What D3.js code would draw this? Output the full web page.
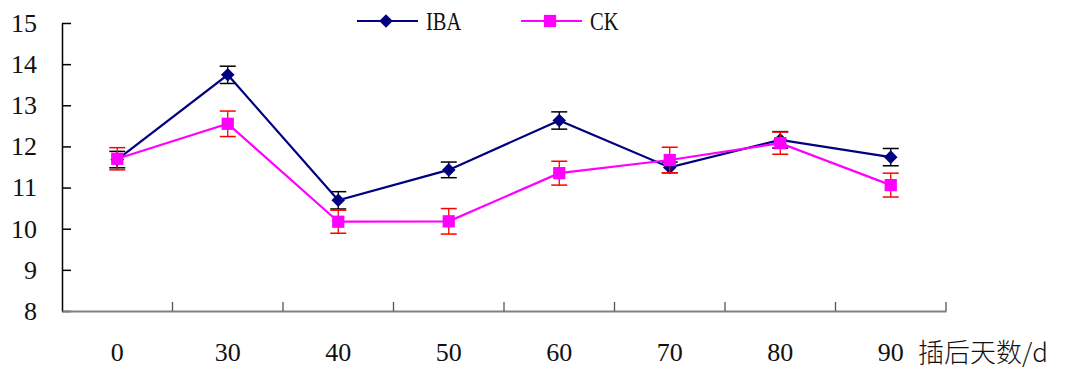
<!DOCTYPE html>
<html>
<head>
<meta charset="utf-8">
<script src="https://cdn.jsdelivr.net/npm/d3@7"></script>
<style>
  body { margin: 0; background: #fff; }
</style>
</head>
<body>
<div id="chart"></div>
<script>
// data
var days = ["0", "30", "40", "50", "60", "70", "80", "90"];
var iba = [11.68, 13.74, 10.69, 11.43, 12.63, 11.49, 12.16, 11.74];
var ibaErr = [0.2, 0.21, 0.21, 0.19, 0.21, 0.13, 0.2, 0.21];
var ck = [11.7, 12.55, 10.17, 10.18, 11.35, 11.67, 12.08, 11.06];
var ckErr = [0.27, 0.31, 0.28, 0.31, 0.29, 0.31, 0.27, 0.29];
var yTicks = [8, 9, 10, 11, 12, 13, 14, 15];

var width = 1072, height = 368;
var serif = "'Liberation Serif', 'DejaVu Serif', serif";

var svg = d3.select("#chart").append("svg")
    .attr("width", width)
    .attr("height", height);

var xScale = d3.scaleBand().domain(days).range([62, 946]);
var yScale = d3.scaleLinear().domain([8, 15]).range([311, 23]);

// y axis, ticks pointing inward
var yAxis = d3.axisLeft(yScale).tickValues(yTicks).tickFormat(d3.format("d"))
    .tickSizeInner(-9).tickSizeOuter(0).tickPadding(25);
var yAxisGroup = svg.append("g")
    .attr("transform", "translate(62,0)")
    .call(yAxis);
yAxisGroup.select(".domain").attr("stroke", "#000").attr("stroke-width", 1.5);
yAxisGroup.selectAll(".tick line").attr("stroke", "#000").attr("stroke-width", 1.5);
yAxisGroup.selectAll(".tick text")
    .style("font-family", serif)
    .style("font-size", "26px")
    .attr("fill", "#111");

// x axis: labels centred in bands, ticks on band edges
var xAxis = d3.axisBottom(xScale).tickSize(0).tickPadding(32);
var xAxisGroup = svg.append("g")
    .attr("transform", "translate(0,311)")
    .call(xAxis);
xAxisGroup.select(".domain").attr("stroke", "#808080").attr("stroke-width", 2);
xAxisGroup.selectAll(".tick text")
    .style("font-family", serif)
    .style("font-size", "26px")
    .attr("fill", "#111");

xAxisGroup.selectAll(".edge")
    .data(days)
    .enter().append("line")
    .attr("class", "edge")
    .attr("x1", function(d) { return xScale(d) + xScale.bandwidth(); })
    .attr("x2", function(d) { return xScale(d) + xScale.bandwidth(); })
    .attr("y1", -9).attr("y2", 0)
    .attr("stroke", "#555").attr("stroke-width", 1.3);

svg.append("text")
    .attr("x", 918).attr("y", 362)
    .style("font-family", "'Noto Sans CJK SC'")
    .style("font-size", "26px")
    .style("font-weight", 300)
    .attr("fill", "#111")
    .text("插后天数/d");

function cx(d, i) { return xScale(days[i]) + xScale.bandwidth() / 2; }

function drawSeries(values, errs, color, errColor, diamond) {
    var g = svg.append("g");
    var line = d3.line()
        .x(function(d, i) { return cx(d, i); })
        .y(function(d) { return yScale(d); });

    var eb = g.selectAll(".err").data(values).enter().append("g");
    eb.append("line")
        .attr("x1", cx).attr("x2", cx)
        .attr("y1", function(d, i) { return yScale(d + errs[i]); })
        .attr("y2", function(d, i) { return yScale(d - errs[i]); })
        .attr("stroke", errColor).attr("stroke-width", 1.3);
    [1, -1].forEach(function(s) {
        eb.append("line")
            .attr("x1", function(d, i) { return cx(d, i) - 8; })
            .attr("x2", function(d, i) { return cx(d, i) + 8; })
            .attr("y1", function(d, i) { return yScale(d + s * errs[i]); })
            .attr("y2", function(d, i) { return yScale(d + s * errs[i]); })
            .attr("stroke", errColor).attr("stroke-width", 1.5);
    });

    g.append("path")
        .datum(values)
        .attr("fill", "none")
        .attr("stroke", color)
        .attr("stroke-width", 2.2)
        .attr("d", line);

    g.selectAll(".pt").data(values).enter().append("path")
        .attr("transform", function(d, i) {
            return "translate(" + cx(d, i) + "," + yScale(d) + ")" + (diamond ? " rotate(45)" : "");
        })
        .attr("d", d3.symbol().type(d3.symbolSquare).size(diamond ? 92 : 150))
        .attr("fill", color);
}

drawSeries(iba, ibaErr, "#000080", "#000", true);
drawSeries(ck, ckErr, "#ff00ff", "#ff0000", false);

// legend
var legendItems = [
    {name: "IBA", color: "#000080", diamond: true, x: 357},
    {name: "CK", color: "#ff00ff", diamond: false, x: 521}
];
var lg = svg.selectAll(".legend").data(legendItems).enter().append("g")
    .attr("transform", function(d) { return "translate(" + d.x + ",21)"; });
lg.append("line")
    .attr("x1", 0).attr("x2", 61).attr("y1", 0).attr("y2", 0)
    .attr("stroke", function(d) { return d.color; })
    .attr("stroke-width", 2.2);
lg.append("path")
    .attr("transform", function(d) { return "translate(29,0)" + (d.diamond ? " rotate(45)" : ""); })
    .attr("d", function(d) { return d3.symbol().type(d3.symbolSquare).size(d.diamond ? 92 : 150)(); })
    .attr("fill", function(d) { return d.color; });
lg.append("text")
    .attr("transform", "translate(69,9) scale(0.82,1)")
    .style("font-family", serif)
    .style("font-size", "25px")
    .attr("fill", "#111")
    .text(function(d) { return d.name; });
</script>
</body>
</html>
